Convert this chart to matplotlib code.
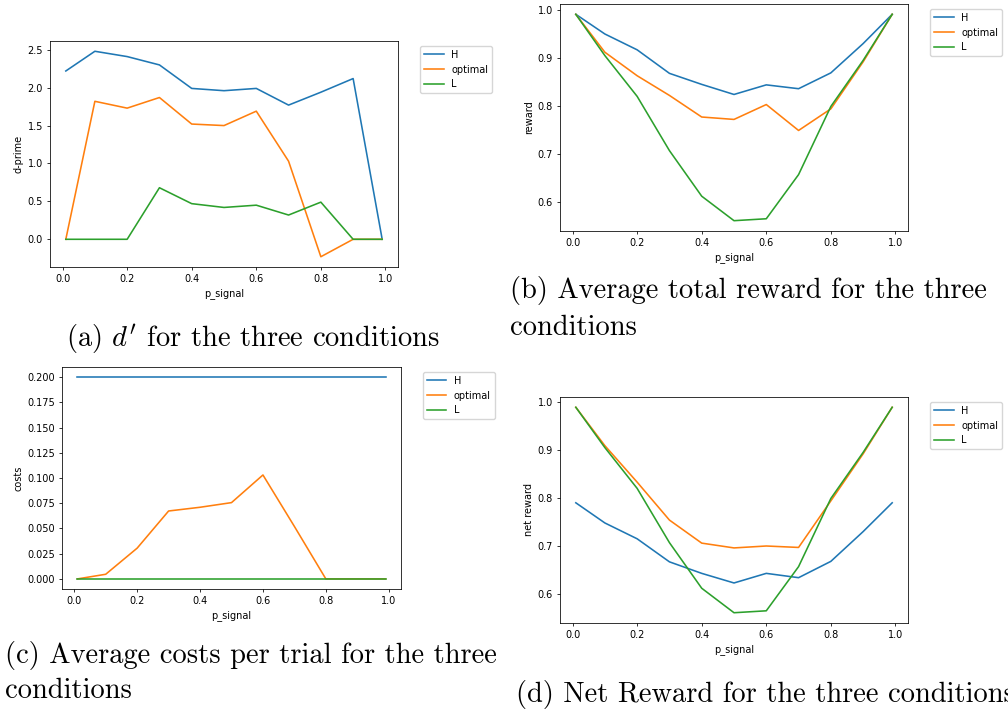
import matplotlib
matplotlib.use("Agg")
import matplotlib.pyplot as plt

# p_signal values used in every run
p_signal = [0.01, 0.1, 0.2, 0.3, 0.4, 0.5, 0.6, 0.7, 0.8, 0.9, 0.99]

# d-prime per condition
dprime_H = [2.22, 2.48, 2.41, 2.30, 1.99, 1.96, 1.99, 1.77, 1.94, 2.12, 0.0]
dprime_opt = [0.0, 1.82, 1.73, 1.87, 1.52, 1.50, 1.69, 1.03, -0.23, 0.0, 0.0]
dprime_L = [0.0, 0.0, 0.0, 0.68, 0.47, 0.42, 0.45, 0.32, 0.49, 0.0, 0.0]

# average total reward
reward_H = [0.992, 0.951, 0.918, 0.869, 0.846, 0.825, 0.845, 0.837, 0.870, 0.931, 0.992]
reward_opt = [0.992, 0.913, 0.864, 0.823, 0.778, 0.773, 0.804, 0.750, 0.795, 0.893, 0.992]
reward_L = [0.992, 0.906, 0.821, 0.708, 0.613, 0.562, 0.566, 0.658, 0.800, 0.896, 0.992]

# average costs per trial
costs_H = [0.2] * 11
costs_opt = [0.0, 0.0046, 0.0305, 0.0673, 0.071, 0.0756, 0.103, 0.052, 0.0, 0.0, 0.0]
costs_L = [0.0] * 11

# net reward
net_H = [0.791, 0.749, 0.716, 0.668, 0.644, 0.624, 0.644, 0.635, 0.669, 0.731, 0.791]
net_opt = [0.990, 0.910, 0.834, 0.755, 0.707, 0.697, 0.701, 0.698, 0.795, 0.893, 0.990]
net_L = [0.990, 0.906, 0.821, 0.708, 0.613, 0.562, 0.566, 0.658, 0.800, 0.896, 0.990]

plt.rcParams.update({
    "font.size": 7,
    "lines.linewidth": 1.15,
    "axes.linewidth": 0.56,
    "xtick.major.size": 2.5,
    "ytick.major.size": 2.5,
    "xtick.major.width": 0.56,
    "ytick.major.width": 0.56,
    "xtick.major.pad": 2.5,
    "ytick.major.pad": 2.5,
    "axes.labelpad": 2.8,
    "legend.fontsize": 7,
    "mathtext.fontset": "cm",
})

W, H = 1008, 712
fig = plt.figure(figsize=(W / 100, H / 100), dpi=100)


def panel(box, series, ylabel):
    x0, y0, x1, y1 = box
    ax = fig.add_axes([x0 / W, 1 - y1 / H, (x1 - x0) / W, (y1 - y0) / H])
    for vals, lab in zip(series, ["H", "optimal", "L"]):
        ax.plot(p_signal, vals, label=lab)
    ax.set_xlabel("p_signal")
    ax.set_ylabel(ylabel)
    ax.legend(bbox_to_anchor=(1.05, 1), loc="upper left")
    return ax


panel((50, 41, 398, 267), [dprime_H, dprime_opt, dprime_L], "d-prime")
panel((560, 4, 908, 231), [reward_H, reward_opt, reward_L], "reward")
panel((62, 367, 401, 589), [costs_H, costs_opt, costs_L], "costs")
panel((560, 397, 908, 623), [net_H, net_opt, net_L], "net reward")

# subfigure captions
cap = dict(family="cmr10", fontsize=20.5, va="baseline", ha="left")
fig.text(66 / W, 1 - 347 / H, r"(a) $d^\prime$ for the three conditions", **cap)
fig.text(510 / W, 1 - 298 / H, "(b) Average total reward for the three", **cap)
fig.text(510 / W, 1 - 335 / H, "conditions", **cap)
fig.text(5 / W, 1 - 663 / H, "(c) Average costs per trial for the three", **cap)
fig.text(5 / W, 1 - 698 / H, "conditions", **cap)
fig.text(516 / W, 1 - 702 / H, "(d) Net Reward for the three conditions", **cap)

fig.savefig("out.png", dpi=100)
